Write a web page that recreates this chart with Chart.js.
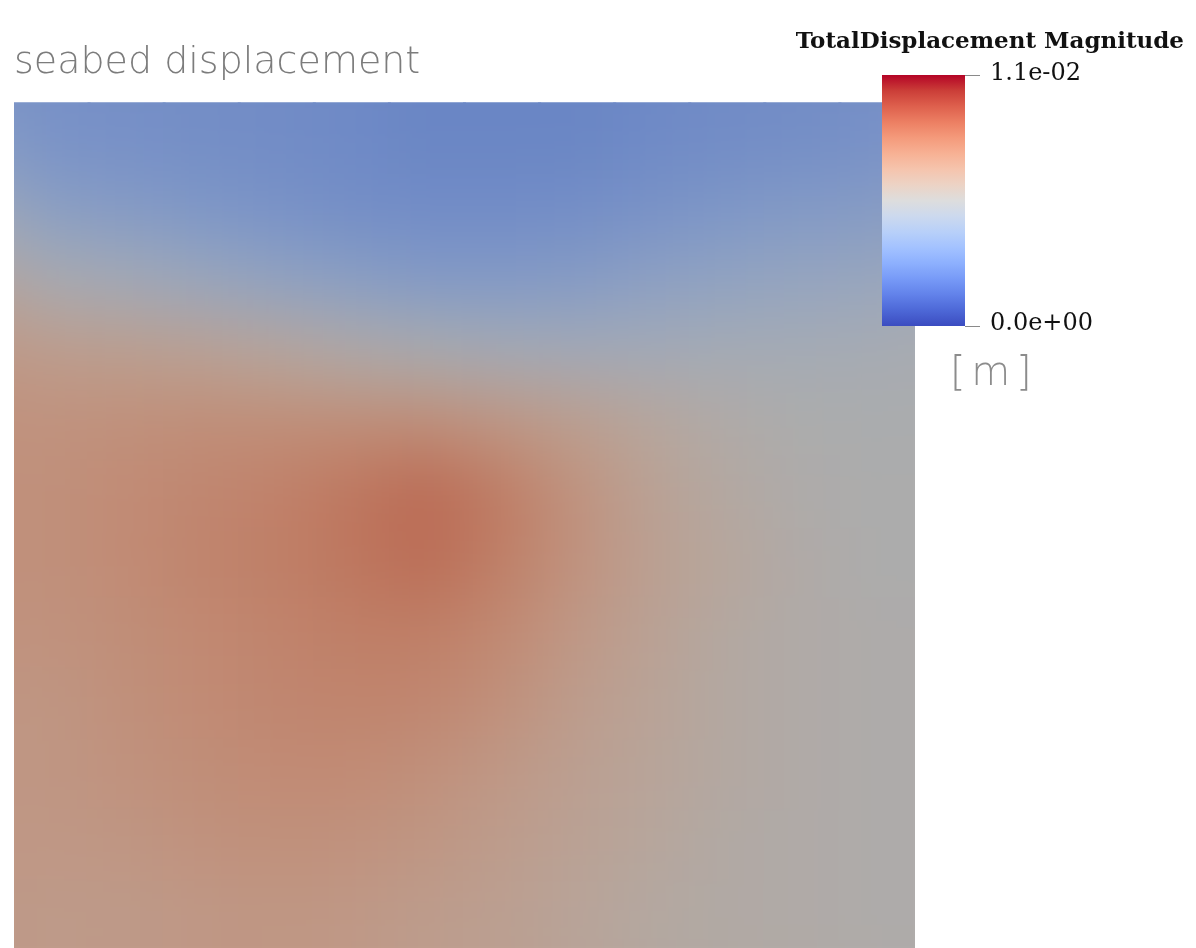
<!DOCTYPE html>
<html>
<head>
<meta charset="utf-8">
<script src="https://cdn.jsdelivr.net/npm/chart.js@4.4.0/dist/chart.umd.min.js"></script>
<style>
  body { margin: 0; background: #fff; }
  #wrap { position: relative; width: 1196px; height: 948px; }
</style>
</head>
<body>
<div id="wrap"><canvas id="seabedChart"></canvas></div>
<script>
// TotalDisplacement magnitude on the seabed, in mm (colour range 0 .. 11 mm = 1.1e-02 m)
const colLabels = ['c1', 'c2', 'c3', 'c4', 'c5', 'c6', 'c7', 'c8', 'c9', 'c10', 'c11', 'c12'];

const row01 = [3.2, 3.1, 3.0, 2.9, 2.8, 2.6, 2.6, 2.6, 2.8, 2.9, 3.0, 3.1];
const row02 = [3.9, 3.7, 3.4, 3.2, 3.0, 2.9, 2.9, 3.0, 3.2, 3.4, 3.6, 3.7];
const row03 = [5.3, 5.0, 4.6, 4.2, 3.9, 3.6, 3.6, 3.7, 4.0, 4.2, 4.4, 4.5];
const row04 = [6.7, 6.6, 6.4, 6.1, 5.7, 5.4, 5.1, 5.0, 5.0, 5.1, 5.1, 5.2];
const row05 = [7.2, 7.3, 7.4, 7.4, 7.4, 7.4, 7.0, 6.6, 6.1, 5.7, 5.5, 5.4];
const row06 = [7.3, 7.5, 7.7, 7.9, 8.3, 8.7, 8.1, 7.2, 6.4, 5.9, 5.6, 5.5];
const row07 = [7.3, 7.5, 7.8, 8.0, 8.3, 8.6, 8.0, 7.2, 6.5, 6.1, 5.7, 5.5];
const row08 = [7.2, 7.4, 7.6, 7.8, 8.0, 8.0, 7.6, 6.9, 6.4, 5.9, 5.7, 5.6];
const row09 = [7.0, 7.3, 7.5, 7.7, 7.8, 7.7, 7.3, 6.7, 6.3, 5.9, 5.7, 5.6];
const row10 = [7.0, 7.2, 7.4, 7.5, 7.5, 7.3, 6.9, 6.5, 6.2, 5.9, 5.7, 5.6];
const row11 = [6.9, 7.0, 7.2, 7.3, 7.2, 7.0, 6.7, 6.4, 6.1, 5.8, 5.7, 5.6];
const row12 = [6.8, 6.8, 6.9, 7.0, 6.9, 6.7, 6.5, 6.2, 5.9, 5.8, 5.7, 5.6];
const gridRows = [row01, row02, row03, row04, row05, row06, row07, row08, row09, row10, row11, row12];

const rangeMin = 0.0;
const rangeMax = 11.0;
const rangeLabels = ['1.1e-02', '0.0e+00'];

// Cool to Warm colour map
const coolwarm = [
    [59, 76, 192], [77, 104, 215], [98, 130, 234], [119, 154, 247],
    [141, 176, 254], [163, 194, 255], [184, 208, 249], [204, 217, 238],
    [221, 221, 221], [236, 211, 197], [245, 196, 173], [247, 177, 148],
    [244, 154, 123], [236, 127, 99], [222, 96, 77], [203, 62, 56], [180, 4, 38]
];
const shade = 0.78;

function mapColor(v, k) {
    let t = (v - rangeMin) / (rangeMax - rangeMin);
    t = Math.max(0, Math.min(1, t)) * (coolwarm.length - 1);
    const i = Math.min(Math.floor(t), coolwarm.length - 2);
    const f = t - i;
    const a = coolwarm[i], b = coolwarm[i + 1];
    const c = [0, 1, 2].map(j => Math.round((a[j] + (b[j] - a[j]) * f) * k));
    return `rgb(${c[0]}, ${c[1]}, ${c[2]})`;
}

// one floating bar per cell; a small overlap hides the anti-aliased seams
const datasets = gridRows.map((vals, r) => ({
    label: 'row ' + (r + 1),
    data: vals.map(() => [r - 0.03, r + 1.03]),
    backgroundColor: vals.map(v => mapColor(v, shade)),
    borderWidth: 0,
    borderSkipped: false,
    barPercentage: 1.04,
    categoryPercentage: 1.0,
    grouped: false
}));

// smooth the cells like the interpolated surface
const smoothPlugin = {
    id: 'smooth',
    afterDatasetsDraw(chart) {
        const ctx = chart.ctx;
        const { left, top, width, height } = chart.chartArea;
        const pad = 80;
        const off = document.createElement('canvas');
        off.width = width + 2 * pad;
        off.height = height + 2 * pad;
        const o = off.getContext('2d');
        o.drawImage(chart.canvas, left, top, width, height, 0, 0, off.width, off.height);
        o.drawImage(chart.canvas, left, top, width, height, pad, pad, width, height);
        ctx.save();
        ctx.beginPath();
        ctx.rect(left, top, width, height);
        ctx.clip();
        ctx.filter = 'blur(34px)';
        ctx.drawImage(off, left - pad, top - pad);
        ctx.restore();
    }
};

const colorbarPlugin = {
    id: 'colorbar',
    afterDraw(chart) {
        const ctx = chart.ctx;
        const x0 = 882, x1 = 965, y0 = 75, y1 = 326;
        ctx.save();
        const grad = ctx.createLinearGradient(0, y1, 0, y0);
        coolwarm.forEach((c, i) => {
            grad.addColorStop(i / (coolwarm.length - 1), `rgb(${c[0]}, ${c[1]}, ${c[2]})`);
        });
        ctx.fillStyle = grad;
        ctx.fillRect(x0, y0, x1 - x0, y1 - y0);

        ctx.strokeStyle = '#8a8a8a';
        ctx.lineWidth = 1;
        ctx.beginPath();
        ctx.moveTo(x1, y0 + 0.5); ctx.lineTo(x1 + 15, y0 + 0.5);
        ctx.moveTo(x1, y1 + 0.5); ctx.lineTo(x1 + 15, y1 + 0.5);
        ctx.stroke();

        ctx.fillStyle = '#111';
        ctx.textBaseline = 'middle';
        ctx.textAlign = 'left';
        ctx.font = '24px "DejaVu Serif", "Liberation Serif", serif';
        ctx.fillText(rangeLabels[0], 990, y0 - 1);
        ctx.fillText(rangeLabels[1], 990, y1 - 2);

        ctx.font = 'bold 23px "DejaVu Serif", "Liberation Serif", serif';
        ctx.textAlign = 'right';
        ctx.fillText('TotalDisplacement Magnitude', 1184, 42);

        ctx.fillStyle = '#8c8c8c';
        ctx.textAlign = 'left';
        ctx.font = '200 40px "DejaVu Sans", sans-serif';
        ctx.letterSpacing = '-3.5px';
        ctx.fillText('[ m ]', 950, 375);
        ctx.restore();
    }
};

new Chart(document.getElementById('seabedChart'), {
    type: 'bar',
    data: { labels: colLabels, datasets: datasets },
    options: {
        responsive: true,
        maintainAspectRatio: false,
        animation: false,
        layout: { padding: { left: 14, right: 281, top: 0, bottom: 0 } },
        plugins: {
            legend: { display: false },
            tooltip: { enabled: false },
            title: {
                display: true,
                text: 'seabed displacement',
                align: 'start',
                color: '#7c7c7c',
                font: { family: '"DejaVu Sans", sans-serif', size: 38, weight: 200, lineHeight: 1.2 },
                padding: { top: 40, bottom: 17 }
            }
        },
        scales: {
            x: { display: false, offset: true },
            y: { display: false, min: 0, max: 12, reverse: true }
        }
    },
    plugins: [smoothPlugin, colorbarPlugin]
});
</script>
</body>
</html>
